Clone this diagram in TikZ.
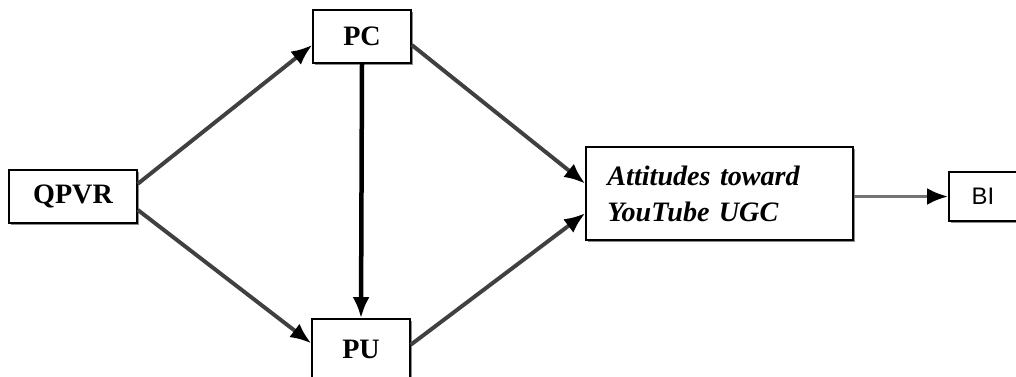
\documentclass[tikz,border=0pt]{standalone}
\usepackage{fontspec}
\setmainfont{Liberation Serif}
\newfontfamily\sansf{Liberation Sans}
\usepackage{tikz}
\usetikzlibrary{positioning, calc, arrows.meta, shadows}

\begin{document}
\begin{tikzpicture}[x=0.025cm, y=-0.025cm,
    box/.style={draw, line width=1pt, fill=white, inner sep=0pt,
      drop shadow={shadow xshift=1.6pt, shadow yshift=-1.6pt, fill=black!45, opacity=1}},
    lbl/.style={font=\fontsize{20}{24}\selectfont\bfseries},
    path/.style={line width=2.8pt, black!75, -{Latex[length=15pt,width=12pt,black]}}]
      \useasboundingbox (0,0) rectangle (1016,376);

      % ボックス
      \node[box, lbl, minimum width=3.2cm, minimum height=1.325cm] (qpvr) at (73,196.5) {QPVR};
      \node[box, lbl, minimum width=2.45cm, minimum height=1.325cm] (pc) at (362,36.5) {PC};
      \node[box, lbl, minimum width=2.45cm, minimum height=1.5cm] (pu) at (361,349) {PU};
      \node[box, minimum width=6.675cm, minimum height=2.325cm, align=left,
            text width=5.6cm, font=\fontsize{20}{25.5}\selectfont\bfseries\itshape] (att) at (719.5,193.5)
            {Attitudes toward\\YouTube UGC};
      \node[box, minimum width=1.7cm, minimum height=1.225cm,
            font=\sansf\fontsize{17}{20}\selectfont] (bi) at (983,196.5) {BI};

      % 矢印
      \draw[path] ([yshift=9pt]qpvr.east) -- ([yshift=-6pt]pc.west);
      \draw[path] ([yshift=-9.5pt]qpvr.east) -- ([yshift=4pt]pu.west);
      \draw[line width=3.2pt, -{Latex[length=15pt,width=12pt]}] (pc.south) -- (pu.north);
      \draw[path] ([yshift=-6pt]pc.east) -- ([yshift=7pt]att.west);
      \draw[path] ([yshift=3pt]pu.east) -- ([yshift=-14pt]att.west);
      \draw[path, black!55] (att.east |- bi.west) -- (bi.west);
\end{tikzpicture}
\end{document}
